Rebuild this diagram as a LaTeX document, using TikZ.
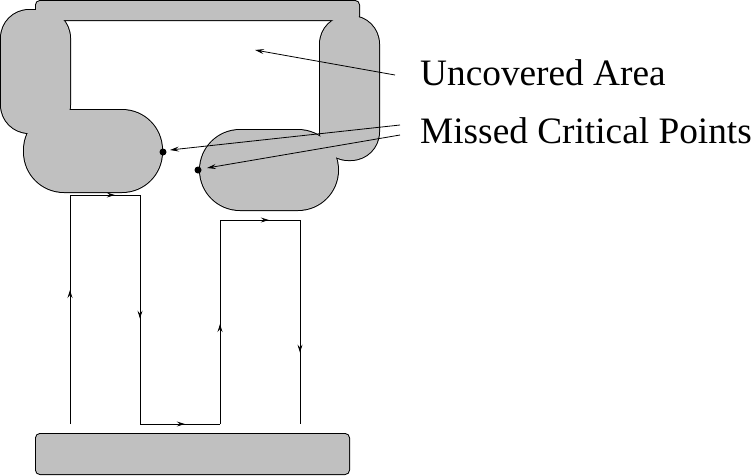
\documentclass[tikz,border=0pt]{standalone}
\usepackage{fontspec}
\setmainfont{Liberation Serif}
\usetikzlibrary{arrows.meta,decorations.markings}
\definecolor{xfiggray}{RGB}{192,192,192}
\tikzset{
  pathline/.style={line width=0.9pt},
  labelline/.style={line width=0.8pt,-{Stealth[length=9pt,width=5pt,inset=3.5pt]}},
  midarrow/.style={postaction={decorate},decoration={markings,
      mark=at position #1 with {\arrow{Stealth[length=8pt,width=5pt,inset=3pt]}}}},
  labeltext/.style={inner sep=0pt,anchor=base west,font=\fontsize{37.3}{44}\selectfont},
  critdot/.style={fill=black}
}
\newcommand\myblobs[1]{%
  \path[#1,rounded corners=4pt] (36,1) rectangle (359,20);
  \path[#1,rounded corners=28pt] (1,10) rectangle (70,133);
  \path[#1,rounded corners=40pt] (24,110) rectangle (162,192);
  \path[#1,rounded corners=28pt] (320,16) rectangle (379,160);
  \path[#1,rounded corners=40pt] (200,130) rectangle (338,210);
  \path[#1,rounded corners=4pt] (36,434) rectangle (349,474);
}
\begin{document}
\begin{tikzpicture}[x=1pt,y=-1pt]
\useasboundingbox (0,0) rectangle (751,475);
% union of covered regions: outline then fill
\myblobs{draw=black,line width=2pt}
\myblobs{fill=xfiggray}
% path corners
\coordinate (p1) at (70,424);
\coordinate (p2) at (70,195);
\coordinate (p3) at (140,195);
\coordinate (p4) at (140,424);
\coordinate (p5) at (220,424);
\coordinate (p6) at (220,220);
\coordinate (p7) at (300,220);
\coordinate (p8) at (300,424);
\draw[pathline,midarrow=0.585] (p1) -- (p2);
\draw[pathline,midarrow=0.64] (p2) -- (p3);
\draw[pathline,midarrow=0.54] (p3) -- (p4);
\draw[pathline,midarrow=0.56] (p4) -- (p5);
\draw[pathline,midarrow=0.49] (p5) -- (p6);
\draw[pathline,midarrow=0.61] (p6) -- (p7);
\draw[pathline,midarrow=0.65] (p7) -- (p8);
% critical points
\fill[critdot] (163,152) circle (3.5pt) coordinate (c1);
\fill[critdot] (198,170) circle (3.5pt) coordinate (c2);
% labels
\node[labeltext] (ua) at (420,85) {Uncovered Area};
\node[labeltext] (mc) at (420,143) {Missed Critical Points};
\coordinate (ua0) at (395,75);
\coordinate (ua1) at (255,50);
\coordinate (mc0) at (400,125);
\coordinate (mc1) at (170,150);
\coordinate (mc2) at (400,135);
\coordinate (mc3) at (207,168);
\draw[labelline] (ua0) -- (ua1);
\draw[labelline] (mc0) -- (mc1);
\draw[labelline] (mc2) -- (mc3);
\end{tikzpicture}
\end{document}
